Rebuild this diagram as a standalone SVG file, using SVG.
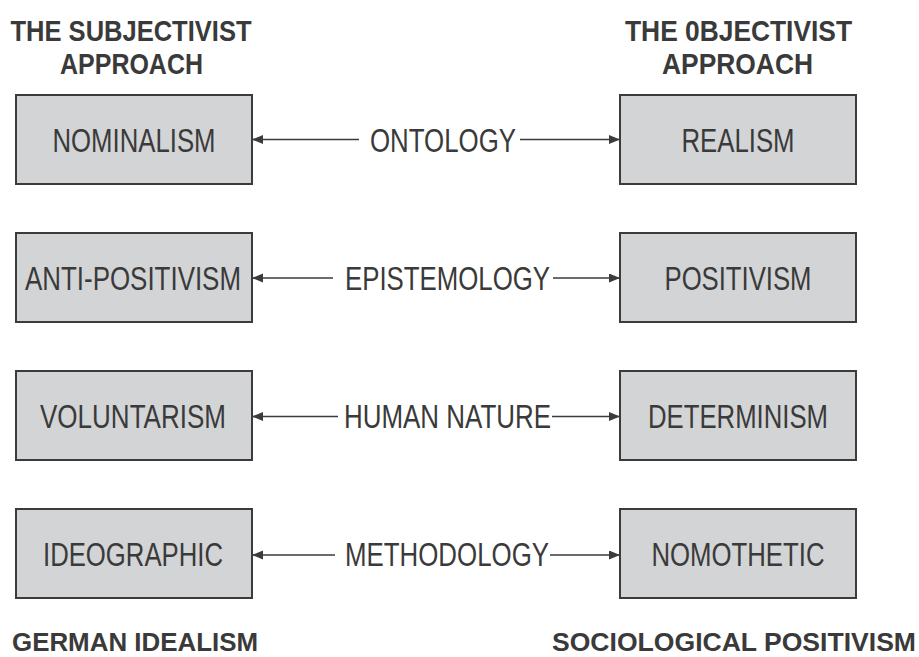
<svg xmlns="http://www.w3.org/2000/svg" width="919" height="657" viewBox="0 0 919 657">
<style>
.hd{font-family:"Liberation Sans",Arial,sans-serif;font-weight:bold;font-size:30px;fill:#3a3a3a;text-anchor:middle}
.ft{font-family:"Liberation Sans",Arial,sans-serif;font-weight:bold;font-size:26px;fill:#3a3a3a}
.bx{fill:#d3d4d6;stroke:#3b3b3b;stroke-width:2}
.bt{font-family:"Liberation Sans",Arial,sans-serif;font-size:33px;fill:#3a3a3a;text-anchor:middle}
.lb{font-family:"Liberation Sans",Arial,sans-serif;font-size:33px;fill:#3a3a3a}
.cn{stroke:#3b3b3b;stroke-width:1.7;fill:none;marker-end:url(#ah)}
</style>
<defs>
<marker id="ah" markerUnits="userSpaceOnUse" markerWidth="12" markerHeight="10" refX="11" refY="4.5" orient="auto">
<path d="M0,0 L11,4.5 L0,9 Z" fill="#3b3b3b"/>
</marker>
</defs>
<rect width="919" height="657" fill="#ffffff"/>

<g id="header-subjectivist">
<text class="hd" x="131" y="41" textLength="241" lengthAdjust="spacingAndGlyphs">THE SUBJECTIVIST</text>
<text class="hd" x="131.5" y="74" textLength="143" lengthAdjust="spacingAndGlyphs">APPROACH</text>
</g>
<g id="header-objectivist">
<text class="hd" x="738.5" y="41" textLength="227" lengthAdjust="spacingAndGlyphs">THE 0BJECTIVIST</text>
<text class="hd" x="737.5" y="74" textLength="151" lengthAdjust="spacingAndGlyphs">APPROACH</text>
</g>

<g id="nominalism"><rect class="bx" x="16" y="95" width="236" height="89"/><text class="bt" x="134" y="152" textLength="163" lengthAdjust="spacingAndGlyphs">NOMINALISM</text></g>
<g id="realism"><rect class="bx" x="620" y="95" width="236" height="89"/><text class="bt" x="738" y="152" textLength="113" lengthAdjust="spacingAndGlyphs">REALISM</text></g>

<g id="anti-positivism"><rect class="bx" x="16" y="233" width="236" height="89"/><text class="bt" x="133" y="290" textLength="216" lengthAdjust="spacingAndGlyphs">ANTI-POSITIVISM</text></g>
<g id="positivism"><rect class="bx" x="620" y="233" width="236" height="89"/><text class="bt" x="738" y="290" textLength="147" lengthAdjust="spacingAndGlyphs">POSITIVISM</text></g>

<g id="voluntarism"><rect class="bx" x="16" y="371" width="236" height="89"/><text class="bt" x="133" y="428" textLength="186" lengthAdjust="spacingAndGlyphs">VOLUNTARISM</text></g>
<g id="determinism"><rect class="bx" x="620" y="371" width="236" height="89"/><text class="bt" x="738" y="428" textLength="180" lengthAdjust="spacingAndGlyphs">DETERMINISM</text></g>

<g id="ideographic"><rect class="bx" x="16" y="509" width="236" height="89"/><text class="bt" x="133" y="566" textLength="180" lengthAdjust="spacingAndGlyphs">IDEOGRAPHIC</text></g>
<g id="nomothetic"><rect class="bx" x="620" y="509" width="236" height="89"/><text class="bt" x="738" y="566" textLength="173" lengthAdjust="spacingAndGlyphs">NOMOTHETIC</text></g>

<g id="connectors">
<path class="cn" d="M359,139.5 H252"/>
<path class="cn" d="M520,139.5 H620"/>
<path class="cn" d="M333,278 H252"/>
<path class="cn" d="M553,278 H620"/>
<path class="cn" d="M338,416.5 H252"/>
<path class="cn" d="M552,416.5 H620"/>
<path class="cn" d="M335,555 H252"/>
<path class="cn" d="M550,555 H620"/>
<text class="lb" x="370" y="152" textLength="146" lengthAdjust="spacingAndGlyphs">ONTOLOGY</text>
<text class="lb" x="345" y="290" textLength="205" lengthAdjust="spacingAndGlyphs">EPISTEMOLOGY</text>
<text class="lb" x="344" y="428" textLength="207" lengthAdjust="spacingAndGlyphs">HUMAN NATURE</text>
<text class="lb" x="345" y="566" textLength="204" lengthAdjust="spacingAndGlyphs">METHODOLOGY</text>
</g>

<g id="footer-german-idealism"><text class="ft" x="12" y="651" textLength="246" lengthAdjust="spacingAndGlyphs">GERMAN IDEALISM</text></g>
<g id="footer-sociological-positivism"><text class="ft" x="552" y="651" textLength="364" lengthAdjust="spacingAndGlyphs">SOCIOLOGICAL POSITIVISM</text></g>
</svg>
